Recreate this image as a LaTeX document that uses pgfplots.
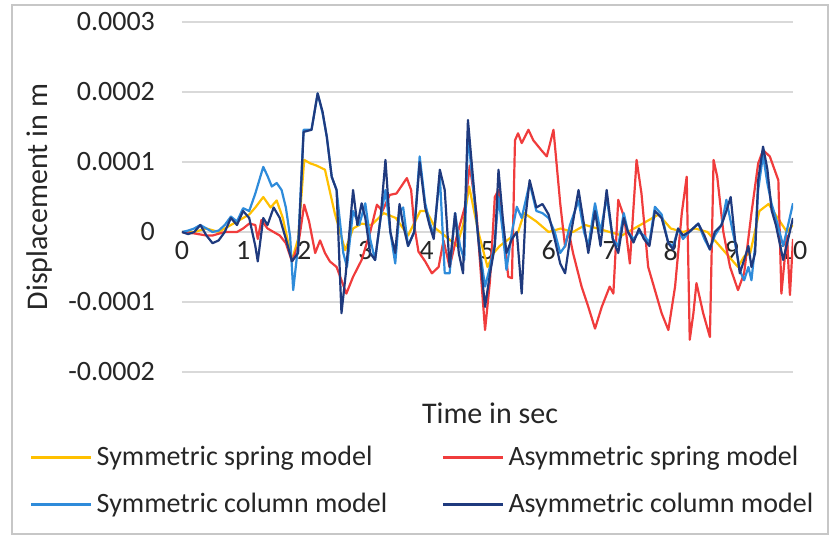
\documentclass[border=0pt]{standalone}
\usepackage{pgfplots}
\pgfplotsset{compat=1.18}
\usepackage{fontspec}
\setmainfont{Carlito}

\definecolor{symspring}{HTML}{FFC000}
\definecolor{asymspring}{HTML}{F03C3C}
\definecolor{symcol}{HTML}{2E8BDA}
\definecolor{asymcol}{HTML}{1F3A7E}
\definecolor{gridgray}{HTML}{D9D9D9}
\definecolor{txt}{HTML}{262626}

\begin{document}
\begin{tikzpicture}[x=1pt,y=1pt]
\useasboundingbox (0,0) rectangle (415.5,-269.5);
\draw[draw=gridgray!80!gray, line width=0.6pt] (6,-2.5) rectangle (414,-267);

\begin{axis}[
  at={(91pt,-186pt)}, anchor=south west,
  scale only axis, width=305.5pt, height=175pt,
  xmin=0, xmax=10, ymin=-2, ymax=3,
  axis line style={draw=none},
  xtick={0,1,...,10}, ytick={-2,-1,0,1,2,3},
  yticklabels={-0.0002,-0.0001,0,0.0001,0.0002,0.0003},
  major tick length=0pt,
  ymajorgrids, grid style={gridgray, line width=0.9pt},
  tick label style={font=\fontsize{14}{16}\selectfont, text=txt},
  yticklabel style={xshift=-10pt},
  xticklabel style={yshift=69pt},
  /pgf/number format/assume math mode=true,
  legend columns=2,
  legend cell align=left,
  legend style={at={(-0.26,-0.189)}, anchor=north west, draw=none, fill=none,
    font=\fontsize{14}{16}\selectfont, text=txt,
    row sep=8pt,
    /tikz/every even column/.append style={column sep=25pt}},
  legend image code/.code={\draw[#1, line width=1.6pt] (0pt,0pt) -- (30pt,0pt);},
  every axis plot/.append style={line width=1.1pt, line join=round},
]
% symmetric spring model (values in 1e-4 m)
\addplot[color=symspring] coordinates {
(0,0) (0.2,0) (0.4,0.05) (0.6,0) (0.8,0.1) (1.0,0.2) (1.1,0.25) (1.2,0.35) (1.33,0.5)
(1.45,0.35) (1.55,0.45) (1.65,0.2) (1.8,-0.4) (1.9,-0.1) (2.0,1.03) (2.1,0.98) (2.2,0.95)
(2.34,0.89) (2.5,0.27) (2.67,-0.26) (2.8,0.05) (2.94,0.12) (3.1,0.1) (3.3,0.27) (3.5,0.2)
(3.7,-0.05) (3.9,0.3) (4.0,0.3) (4.15,0.05) (4.3,-0.05) (4.5,-0.2) (4.6,0.1) (4.7,0.65)
(4.85,0) (5.0,-0.5) (5.1,-0.3) (5.2,-0.2) (5.35,-0.1) (5.5,0.0) (5.6,0.27) (5.8,0.15)
(6.0,0.0) (6.2,0.05) (6.4,0.0) (6.6,0.1) (6.8,0.05) (7.0,0.0) (7.2,-0.05) (7.4,0.05)
(7.6,0.15) (7.8,0.25) (8.0,0.05) (8.2,0.0) (8.4,0.05) (8.6,0.0) (8.8,-0.2) (9.0,-0.4)
(9.1,-0.5) (9.2,-0.35) (9.3,-0.3) (9.45,0.3) (9.6,0.4) (9.75,0.2) (9.9,0.0) (10,0.1)
};
\addlegendentry{Symmetric spring model}
% asymmetric spring model
\addplot[color=asymspring] coordinates {
(0,0) (0.2,-0.02) (0.4,-0.05) (0.5,-0.05) (0.7,0) (0.9,0) (1.0,0.05) (1.1,0.12) (1.2,0.1)
(1.24,-0.1) (1.3,0.17) (1.4,0.05) (1.5,0.0) (1.6,-0.05) (1.7,-0.16) (1.8,-0.42) (1.9,-0.2)
(2.0,0.39) (2.08,0.15) (2.18,-0.3) (2.26,-0.12) (2.34,-0.3) (2.42,-0.42) (2.53,-0.5)
(2.69,-0.88) (2.8,-0.64) (2.94,-0.4) (3.08,0.0) (3.19,0.39) (3.28,0.3) (3.4,0.53)
(3.51,0.55) (3.68,0.77) (3.75,0.6) (3.8,0.1) (3.87,-0.28) (3.98,-0.42) (4.09,-0.59)
(4.2,-0.5) (4.28,-0.12) (4.38,-0.5) (4.5,-0.05) (4.63,0.36) (4.71,0.95) (4.82,0.27)
(4.9,-0.7) (4.96,-1.4) (5.04,-0.7) (5.12,0.5) (5.18,0.6) (5.26,0.0) (5.34,-0.64)
(5.4,-0.66) (5.45,1.31) (5.5,1.41) (5.56,1.27) (5.67,1.46) (5.75,1.31) (5.88,1.17)
(5.97,1.08) (6.08,1.46) (6.19,0.41) (6.27,-0.21) (6.33,0.0) (6.4,-0.3) (6.54,-0.78)
(6.65,-1.07) (6.76,-1.38) (6.87,-1.07) (7.0,-0.78) (7.06,-0.88) (7.14,0.46) (7.24,0.2)
(7.33,-0.45) (7.44,1.03) (7.52,0.55) (7.63,-0.5) (7.74,-0.83) (7.85,-1.16) (7.96,-1.4)
(8.07,-0.78) (8.18,0.27) (8.26,0.79) (8.31,-1.54) (8.37,-1.16) (8.42,-0.73) (8.53,-1.16)
(8.64,-1.5) (8.7,1.03) (8.76,0.79) (8.86,0.0) (8.97,-0.5) (9.1,-0.83) (9.2,-0.59)
(9.32,0.27) (9.43,0.98) (9.51,1.17) (9.62,1.08) (9.76,0.74) (9.81,-0.88) (9.9,-0.05)
(9.95,-0.9) (10,-0.1)
};
\addlegendentry{Asymmetric spring model}
% symmetric column model
\addplot[color=symcol] coordinates {
(0,0) (0.1,0.02) (0.2,0.05) (0.3,0.1) (0.4,0.05) (0.5,0.0) (0.6,0.02) (0.7,0.1) (0.8,0.22)
(0.9,0.15) (1.0,0.34) (1.1,0.3) (1.2,0.55) (1.33,0.93) (1.4,0.8) (1.47,0.65) (1.55,0.7)
(1.63,0.6) (1.7,0.35) (1.77,-0.07) (1.82,-0.83) (1.9,-0.2) (1.99,1.46) (2.12,1.46)
(2.22,1.98) (2.3,1.7) (2.37,1.36) (2.45,0.79) (2.53,0.6) (2.64,-0.3) (2.7,-0.5) (2.8,0.3)
(2.9,0.1) (3.0,0.41) (3.08,-0.1) (3.16,-0.4) (3.25,0.2) (3.33,0.6) (3.41,0.0) (3.49,-0.45)
(3.56,0.3) (3.62,0.35) (3.7,-0.2) (3.8,0.0) (3.89,1.08) (3.98,0.41) (4.05,0.15)
(4.12,-0.05) (4.22,0.8) (4.3,-0.59) (4.38,-0.59) (4.47,0.27) (4.55,-0.2) (4.62,-0.4)
(4.68,1.4) (4.77,0.6) (4.85,-0.1) (4.96,-0.78) (5.04,-0.5) (5.12,-0.16) (5.18,0.5)
(5.25,0.0) (5.31,-0.54) (5.4,0.0) (5.48,0.36) (5.56,0.2) (5.69,0.7) (5.8,0.3) (5.9,0.27)
(6.0,0.2) (6.1,0.0) (6.19,-0.3) (6.27,-0.2) (6.35,0.1) (6.49,0.45) (6.58,0.0) (6.65,-0.2)
(6.76,0.41) (6.85,0.0) (6.95,0.5) (7.05,-0.1) (7.14,-0.2) (7.23,0.27) (7.3,0.0)
(7.39,-0.1) (7.48,0.0) (7.56,-0.05) (7.65,-0.15) (7.74,0.36) (7.85,0.25) (7.96,-0.16)
(8.04,-0.2) (8.12,0.05) (8.2,-0.1) (8.3,0.0) (8.45,0.12) (8.55,-0.1) (8.64,-0.25)
(8.72,-0.05) (8.83,0.1) (8.91,0.46) (8.98,0.15) (9.05,-0.15) (9.13,-0.55) (9.2,-0.69)
(9.27,-0.5) (9.32,-0.69) (9.38,-0.2) (9.43,0.6) (9.51,1.1) (9.58,0.7) (9.65,0.4)
(9.72,0.2) (9.84,-0.2) (9.92,0.1) (10,0.41)
};
\addlegendentry{Symmetric column model}
% asymmetric column model
\addplot[color=asymcol] coordinates {
(0,0) (0.1,-0.03) (0.2,0.0) (0.3,0.1) (0.4,-0.05) (0.5,-0.16) (0.6,-0.12) (0.7,0.0)
(0.8,0.2) (0.9,0.1) (1.0,0.3) (1.1,0.2) (1.2,-0.2) (1.24,-0.42) (1.33,0.2) (1.4,0.1)
(1.5,0.35) (1.6,0.2) (1.7,-0.1) (1.8,-0.42) (1.9,-0.3) (1.99,1.43) (2.12,1.46) (2.22,1.98)
(2.3,1.72) (2.37,1.36) (2.45,0.79) (2.53,0.6) (2.61,-1.16) (2.68,-0.6) (2.8,0.6)
(2.87,0.1) (2.94,0.41) (3.0,0.2) (3.08,-0.3) (3.16,-0.4) (3.25,0.2) (3.33,1.03) (3.41,0.0)
(3.49,-0.3) (3.56,0.4) (3.62,0.1) (3.7,-0.2) (3.8,0.0) (3.89,1.0) (3.98,0.35) (4.05,0.1)
(4.12,-0.1) (4.22,0.89) (4.3,0.6) (4.38,-0.5) (4.47,0.27) (4.53,-0.3) (4.6,-0.59)
(4.68,1.6) (4.77,0.7) (4.85,-0.1) (4.96,-1.07) (5.04,-0.6) (5.12,-0.2) (5.18,0.89)
(5.25,0.2) (5.31,-0.3) (5.4,-0.1) (5.48,0.0) (5.56,-0.88) (5.62,0.2) (5.69,0.74) (5.8,0.35)
(5.9,0.4) (6.0,0.25) (6.1,-0.1) (6.19,-0.45) (6.27,-0.59) (6.35,-0.1) (6.49,0.6)
(6.58,0.1) (6.65,-0.3) (6.76,0.3) (6.85,-0.2) (6.95,0.6) (7.05,-0.1) (7.14,-0.3)
(7.23,0.2) (7.3,0.0) (7.39,-0.15) (7.48,0.05) (7.56,-0.1) (7.65,-0.2) (7.74,0.3)
(7.85,0.2) (7.96,-0.16) (8.04,-0.25) (8.12,0.05) (8.2,-0.05) (8.3,0.0) (8.45,0.12)
(8.55,-0.05) (8.64,-0.25) (8.72,0.0) (8.83,0.1) (8.91,0.3) (8.98,0.5) (9.05,-0.1)
(9.13,-0.59) (9.2,-0.4) (9.27,-0.2) (9.32,-0.5) (9.38,-0.3) (9.43,0.74) (9.51,1.22)
(9.58,0.9) (9.65,0.31) (9.72,0.1) (9.84,-0.4) (9.92,-0.1) (10,0.2)
};
\addlegendentry{Asymmetric column model}
\end{axis}

\node[rotate=90, font=\fontsize{15}{17}\selectfont, text=txt] at (20,-98.5) {Displacement in m};
\node[font=\fontsize{15}{17}\selectfont, text=txt] at (245,-206.5) {Time in sec};
\end{tikzpicture}
\end{document}
